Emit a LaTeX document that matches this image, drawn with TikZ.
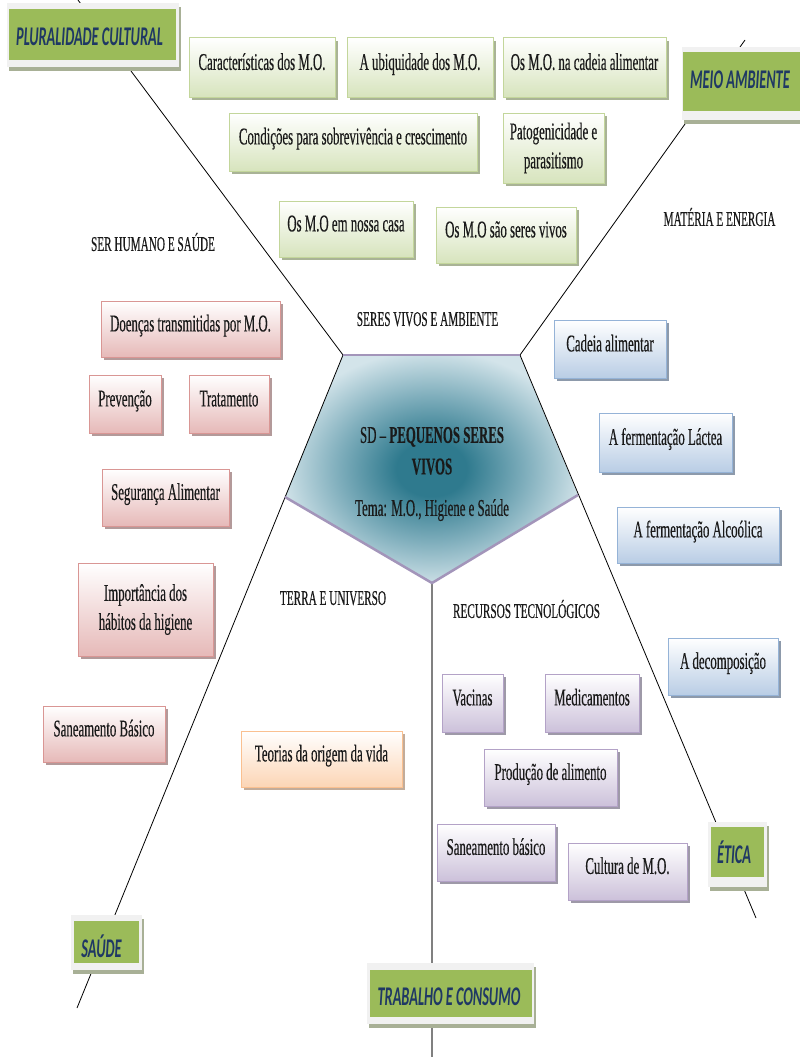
\documentclass[tikz,border=0pt]{standalone}
\usepackage{fontspec}
\setmainfont{Liberation Serif}[FakeStretch=0.535,FakeBold=0.35]
\newfontfamily\headfam{Carlito}[FakeStretch=0.53]
\usetikzlibrary{shadows}
\definecolor{gBord}{HTML}{C3D69B}\definecolor{gBot}{HTML}{D7E4BD}\definecolor{gSh}{HTML}{A9B396}
\definecolor{rBord}{HTML}{D99694}\definecolor{rBot}{HTML}{E6B9B8}\definecolor{rSh}{HTML}{B39A9A}
\definecolor{oBord}{HTML}{FAC090}\definecolor{oBot}{HTML}{FCD5B5}\definecolor{oSh}{HTML}{C2AC9A}
\definecolor{bBord}{HTML}{95B3D7}\definecolor{bBot}{HTML}{B9CDE5}\definecolor{bSh}{HTML}{8D9AAB}
\definecolor{pBord}{HTML}{B3A2C7}\definecolor{pBot}{HTML}{CCC1DA}\definecolor{pSh}{HTML}{9E99A8}
\definecolor{hGray}{HTML}{F1F1F1}\definecolor{hShadow}{HTML}{A8B096}
\definecolor{hGreen}{HTML}{9BBB59}\definecolor{hNavy}{HTML}{1F3864}
\definecolor{tDark}{HTML}{2F7A8E}\definecolor{tMid}{HTML}{7FAEBC}\definecolor{tLight}{HTML}{D3E4EA}
\definecolor{penEdge}{HTML}{A395BA}\definecolor{txt}{HTML}{1A1A1A}
\pgfdeclareradialshading{pentshade}{\pgfpoint{0bp}{0bp}}{color(0bp)=(tDark); color(6bp)=(tDark); color(16bp)=(tMid); color(26bp)=(tLight); color(50bp)=(tLight)}
\tikzset{
  cbox/.style n args={3}{draw=#1, line width=1pt, top color=white, bottom color=#2,
    drop shadow={shadow xshift=2.5pt, shadow yshift=-3pt, fill=#3, opacity=1},
    text=txt, font=\fontsize{24}{29}\selectfont, inner sep=0pt, align=center},
  rise/.style={text height=16pt, text depth=11.2pt},
  gbox/.style={cbox={gBord}{gBot}{gSh}},
  rbox/.style={cbox={rBord}{rBot}{rSh}},
  obox/.style={cbox={oBord}{oBot}{oSh}},
  bbox/.style={cbox={bBord}{bBot}{bSh}},
  pbox/.style={cbox={pBord}{pBot}{pSh}},
  lbl/.style={font=\fontsize{21}{24}\selectfont, text=txt, inner sep=0pt, text height=13.9pt, text depth=0pt},
  headframe/.style={fill=hGray, draw=none, inner sep=0pt,
    drop shadow={shadow xshift=1.5pt, shadow yshift=-4pt, fill=hShadow, opacity=1}},
  headfill/.style={fill=hGreen, draw=none, inner sep=0pt},
  headtext/.style={text=hNavy, inner sep=0pt, font=\headfam\bfseries\itshape\fontsize{27}{30}\selectfont,
    text height=17.4pt, text depth=0pt},
  axis/.style={draw=black, line width=0.8pt},
  vaxis/.style={draw=black!50, line width=1.5pt},
  ctext/.style={text=txt, align=center, inner sep=0pt, font=\fontsize{24}{31.5}\selectfont}
}
\begin{document}
\begin{tikzpicture}[x=1pt,y=-1pt]
\useasboundingbox[fill=white] (0,0) rectangle (800,1057);
% pentagon vertices and free ends
\coordinate (pTL) at (343,355);
\coordinate (pTR) at (520,355);
\coordinate (pR) at (578,495);
\coordinate (pB) at (432,583);
\coordinate (pL) at (285,497);
\coordinate (eTL) at (78,0);
\coordinate (eTR) at (745,40);
\coordinate (eR) at (756,918);
\coordinate (eL) at (77,1008);
\coordinate (eB) at (432,1057);
% pentagon
\path[shading=pentshade] (pTL) -- (pTR) -- (pR) -- (pB) -- (pL) -- cycle;
% axes
\draw[axis] (pTL) -- (eTL);
\draw[axis] (pTR) -- (eTR);
\draw[axis] (pTR) -- (eR);
\draw[axis] (pTL) -- (eL);
\draw[vaxis] (pB) -- (eB);
\draw[draw=penEdge, line width=1.2pt] (pTL) -- (pTR);
\draw[draw=penEdge, line width=2.5pt, line join=round] (pR) -- (pB) -- (pL);
% centre text
\node[ctext] (ct) at (432,474) {SD -- \textbf{PEQUENOS SERES}\\\textbf{VIVOS}\\[10pt]Tema: M.O., Higiene e Saúde};
% headings
\node[headframe, minimum width=172, minimum height=64] (plF) at (93,35) {};
\node[headfill, minimum width=167, minimum height=51] (plG) at (92.5,34.5) {};
\node[headtext] (plT) at (89.5,36.5) {PLURALIDADE CULTURAL};
\node[headframe, minimum width=124, minimum height=73] (maF) at (744,83.5) {};
\node[headfill, minimum width=121, minimum height=59] (maG) at (743.5,81.5) {};
\node[headtext] (maT) at (740,80) {MEIO AMBIENTE};
\node[headframe, minimum width=59, minimum height=65] (etF) at (737.5,854.5) {};
\node[headfill, minimum width=53, minimum height=50] (etG) at (737.5,852) {};
\node[headtext] (etT) at (734,855) {ÉTICA};
\node[headframe, minimum width=71, minimum height=55] (saF) at (106.5,942.5) {};
\node[headfill, minimum width=65, minimum height=42] (saG) at (106.5,942) {};
\node[headtext] (saT) at (101.5,948.5) {SAÚDE};
\node[headframe, minimum width=167, minimum height=61] (tcF) at (450.5,993.5) {};
\node[headfill, minimum width=162, minimum height=47] (tcG) at (451,993.5) {};
\node[headtext] (tcT) at (449,996.5) {TRABALHO E CONSUMO};
% labels
\node[lbl] (l1) at (153,244) {SER HUMANO E SAÚDE};
\node[lbl] (l2) at (427.5,319) {SERES VIVOS E AMBIENTE};
\node[lbl] (l3) at (719.5,219) {MATÉRIA E ENERGIA};
\node[lbl] (l4) at (333,598) {TERRA E UNIVERSO};
\node[lbl] (l5) at (526.5,611) {RECURSOS TECNOLÓGICOS};
% green boxes
\node[gbox, rise, minimum width=146, minimum height=59] (g1) at (262,67.5) {Características dos M.O.};
\node[gbox, rise, minimum width=146, minimum height=59] (g2) at (420,67.5) {A ubiquidade dos M.O.};
\node[gbox, rise, minimum width=163, minimum height=59] (g3) at (584.5,67.5) {Os M.O. na cadeia alimentar};
\node[gbox, rise, minimum width=248, minimum height=58] (g4) at (353,142) {Condições para sobrevivência e crescimento};
\node[gbox, minimum width=101, minimum height=70] (g5) at (553.5,148) {Patogenicidade e\\parasitismo};
\node[gbox, rise, minimum width=134, minimum height=56] (g6) at (346,229) {Os M.O em nossa casa};
\node[gbox, rise, minimum width=140, minimum height=56] (g7) at (506,235) {Os M.O são seres vivos};
% red boxes
\node[rbox, rise, minimum width=179, minimum height=56] (r1) at (190.5,329) {Doenças transmitidas por M.O.};
\node[rbox, rise, minimum width=72, minimum height=58] (r2) at (125,404) {Prevenção};
\node[rbox, rise, minimum width=80, minimum height=58] (r3) at (229,404) {Tratamento};
\node[rbox, rise, minimum width=127, minimum height=57] (r4) at (165.5,497.5) {Segurança Alimentar};
\node[rbox, minimum width=135, minimum height=93] (r5) at (145.5,609.5) {Importância dos\\hábitos da higiene};
\node[rbox, rise, minimum width=122, minimum height=56] (r6) at (104,734) {Saneamento Básico};
% orange box
\node[obox, rise, minimum width=161, minimum height=56] (o1) at (321.5,759) {Teorias da origem da vida};
% blue boxes
\node[bbox, rise, minimum width=112, minimum height=58] (b1) at (610,349) {Cadeia alimentar};
\node[bbox, rise, minimum width=133, minimum height=59] (b2) at (665.5,442.5) {A fermentação Láctea};
\node[bbox, rise, minimum width=162, minimum height=56] (b3) at (698,535) {A fermentação Alcoólica};
\node[bbox, rise, minimum width=110, minimum height=57] (b4) at (723,666.5) {A decomposição};
% purple boxes
\node[pbox, rise, minimum width=61, minimum height=58] (v1) at (472.5,703) {Vacinas};
\node[pbox, rise, minimum width=94, minimum height=58] (v2) at (592,703) {Medicamentos};
\node[pbox, rise, minimum width=133, minimum height=57] (v3) at (550.5,777.5) {Produção de alimento};
\node[pbox, rise, minimum width=118, minimum height=57] (v4) at (496,852.5) {Saneamento básico};
\node[pbox, rise, minimum width=119, minimum height=57] (v5) at (627.5,871.5) {Cultura de M.O.};
\end{tikzpicture}
\end{document}
